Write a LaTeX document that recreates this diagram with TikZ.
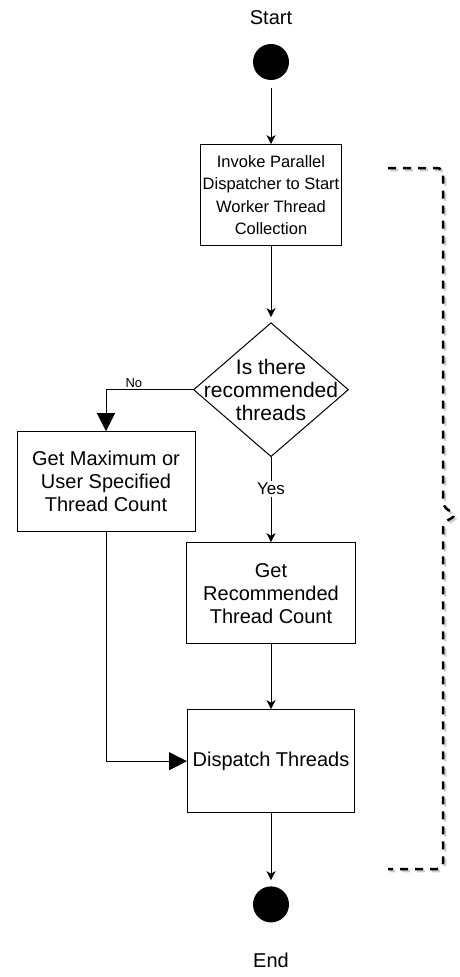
\documentclass[tikz,border=0pt]{standalone}
\usepackage{fontspec}
\setmainfont{Liberation Sans}
\usetikzlibrary{arrows.meta, positioning, shapes.geometric, calc}

\begin{document}
\begin{tikzpicture}[
x=1pt, y=1pt,
font=\fontsize{20}{23}\selectfont,
box/.style={draw, line width=1pt, align=center, inner sep=2pt},
dot/.style={circle, fill=black, minimum size=36pt, inner sep=0pt},
decision/.style={diamond, draw, line width=1pt, minimum width=155pt, minimum height=134pt, inner sep=0pt},
arrow/.style={-{Stealth[length=9pt, width=9pt, inset=2.5pt]}, line width=1pt},
bigarrow/.style={-{Triangle[length=18pt, width=18pt]}, line width=1pt},
brace/.style={line width=2.5pt, dash pattern=on 8pt off 7pt, rounded corners=6pt}
]

\useasboundingbox (0,0) rectangle (460,-977);

\node[dot] (start) at (271,-62) {};
\node[above=19pt of start, inner sep=0pt] (startlbl) {Start};
\node[box, below=64pt of start, minimum width=139pt, minimum height=101pt, font=\fontsize{16.5}{22.5}\selectfont] (invoke) {Invoke Parallel\\Dispatcher to Start\\Worker Thread\\Collection};
\node[decision, below=76pt of invoke, label={[align=center, font=\fontsize{21}{23}\selectfont]center:Is there\\recommended\\threads}] (check) {};
\node[box, below=85pt of check, minimum width=169pt, minimum height=101pt] (getrec) {Get\\Recommended\\Thread Count};
\node[box, below=65pt of getrec, minimum width=167pt, minimum height=103pt] (dispatch) {Dispatch Threads};
\node[dot, below=73pt of dispatch] (stop) {};
\node[below=30pt of stop, inner sep=0pt] (endlbl) {End};
\node[box, minimum width=178pt, minimum height=100pt] (getmax) at ($(check)+(-165,-92)$) {Get Maximum or\\User Specified\\Thread Count};

\draw[arrow, shorten <=8pt] (start) -- (invoke);
\draw[arrow, shorten >=5pt] (invoke) -- (check);
\draw[arrow] (check) -- node[pos=0.37, fill=white, inner sep=2pt, font=\fontsize{17}{17}\selectfont] {Yes} (getrec);
\draw[bigarrow] (check.west) -| node[pos=0.34, above, inner sep=1.5pt, font=\fontsize{13}{13}\selectfont] {No} (getmax.north);
\draw[arrow] (getrec) -- (dispatch);
\draw[bigarrow] (getmax.south) |- (dispatch.west);
\draw[arrow, shorten >=6pt] (dispatch) -- (stop);

% dashed brace with its shadow
\draw[brace, gray!40, shift={(2,-2)}] (388,-168) -- (443,-168) -- (443,-507) -- (457,-515) -- (443,-523) -- (443,-869) -- (388,-869);
\draw[brace] (388,-168) -- (443,-168) -- (443,-507) -- (457,-515) -- (443,-523) -- (443,-869) -- (388,-869);

\end{tikzpicture}
\end{document}
